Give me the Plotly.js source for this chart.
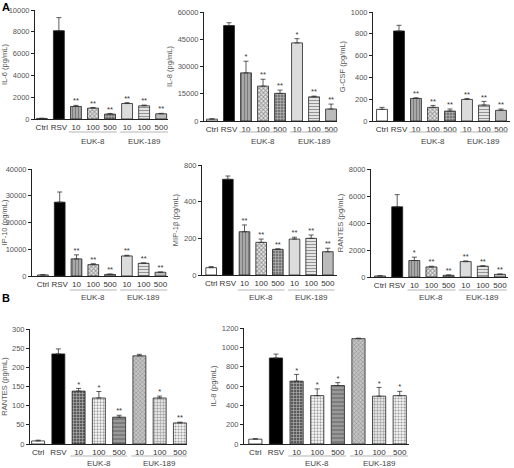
<!DOCTYPE html>
<html>
<head>
<meta charset="utf-8">
<script src="https://cdn.plot.ly/plotly-3.0.1.min.js"></script>
<style>html,body{margin:0;padding:0;background:#fff;}#chart{width:514px;height:468px;}</style>
</head>
<body>
<div id="chart"></div>
<script>
// ---------- DATA ----------
const categories = ['Ctrl', 'RSV', '10', '100', '500', '10', '100', '500'];
const groupLabels = ['EUK-8', 'EUK-189'];

const il6Values = [50, 8100, 1150, 1000, 450, 1420, 1210, 480];
const il6Err    = [20, 1200, 100, 60, 60, 80, 70, 40];
const il6Sig    = ['', '', '**', '**', '**', '**', '**', '**'];

const il8Values = [1000, 52500, 26500, 19200, 15200, 43000, 13300, 6600];
const il8Err    = [200, 1600, 6400, 3800, 1800, 2300, 400, 2700];
const il8Sig    = ['', '', '*', '**', '**', '*', '**', '**'];

const gcsfValues = [107, 826, 207, 125, 91, 198, 146, 98];
const gcsfErr    = [18, 52, 6, 18, 19, 9, 34, 12];
const gcsfSig    = ['', '', '**', '**', '**', '**', '**', '**'];

const ip10Values = [400, 27600, 6400, 4250, 600, 7500, 4750, 1400];
const ip10Err    = [100, 3800, 1500, 350, 150, 250, 150, 100];
const ip10Sig    = ['', '', '**', '**', '**', '**', '**', '**'];

const mipValues = [40, 522, 236, 178, 140, 196, 200, 127];
const mipErr    = [6, 18, 37, 18, 3, 10, 18, 19];
const mipSig    = ['', '', '**', '**', '**', '**', '**', '**'];
const mipTickVals = [0, 200, 400, 600];
const mipTickText = ['0', '200', '400', '800'];

const rantesAValues = [75, 5200, 1220, 745, 125, 1140, 800, 200];
const rantesAErr    = [20, 900, 250, 50, 30, 50, 30, 20];
const rantesASig    = ['', '', '*', '**', '**', '**', '**', '**'];

const rantesBValues = [8, 235, 138, 120, 70, 230, 120, 55];
const rantesBErr    = [2, 13, 7, 17, 5, 4, 5, 2];
const rantesBSig    = ['', '', '*', '*', '**', '', '*', '**'];

const il8BValues = [50, 890, 650, 500, 605, 1090, 495, 500];
const il8BErr    = [5, 40, 70, 70, 30, 5, 90, 45];
const il8BSig    = ['', '', '*', '*', '*', '', '*', '*'];

// ---------- STYLE ----------
const W = 514, H = 468;
const FONT = 'Liberation Sans, Arial, sans-serif';
const idx = categories.map((c, i) => i);

const styleA = {
  color:   ['#ffffff', '#000000', '#a8a8a8', '#e8e8e8', '#777777', '#dcdcdc', '#e4e4e4', '#cfcfcf'],
  shape:   ['', '', '|', 'x', '+', '', '-', '-'],
  fg:      ['#000', '#000', '#8a8a8a', '#111111', '#222222', '#000', '#a0a0a0', '#a8a8a8'],
  size:    [4, 4, 3, 3, 3, 4, 3, 2],
  solidity:[0.3, 0.3, 0.3, 0.55, 0.35, 0.3, 0.35, 0.3]
};
const styleB = {
  color:   ['#ffffff', '#000000', '#5a5a5a', '#ffffff', '#999999', '#c4c4c4', '#e2e2e2', '#f4f4f4'],
  shape:   ['', '', '+', '.', '-', 'x', '+', '.'],
  fg:      ['#000', '#000', '#1a1a1a', '#333333', '#111111', '#8a8a8a', '#555555', '#777777'],
  size:    [4, 4, 3, 3, 4, 3, 3, 3],
  solidity:[0.3, 0.3, 0.4, 0.45, 0.35, 0.3, 0.3, 0.4]
};

// panel layout: pixel boxes [left, right], [top, bottom]
const panels = [
  {vals: il6Values,  err: il6Err,  sig: il6Sig,  title: 'IL-6 (pg/mL)',   px: [35, 168],  py: [10, 119],  xr: [-0.4, 7.4],   yr: [0, 10000], dt: 2000,  st: styleA, row: 0},
  {vals: il8Values,  err: il8Err,  sig: il8Sig,  title: 'IL-8 (pg/mL)',   px: [204, 337], py: [12, 121],  xr: [-0.47, 7.35], yr: [0, 60000], dt: 15000, st: styleA, row: 0},
  {vals: gcsfValues, err: gcsfErr, sig: gcsfSig, title: 'G-CSF (pg/mL)',  px: [373, 510], py: [12, 121],  xr: [-0.53, 7.53], yr: [0, 1000],  dt: 200,   st: styleA, row: 0},
  {vals: ip10Values, err: ip10Err, sig: ip10Sig, title: 'IP-10 (pg/mL)',  px: [32, 168],  py: [169, 276], xr: [-0.65, 7.45], yr: [0, 40000], dt: 10000, st: styleA, row: 1},
  {vals: mipValues,  err: mipErr,  sig: mipSig,  title: 'MIP-1β (pg/mL)', px: [202, 337], py: [165, 275], xr: [-0.55, 7.55], yr: [0, 600],   tv: mipTickVals, tt: mipTickText, st: styleA, row: 1},
  {vals: rantesAValues, err: rantesAErr, sig: rantesASig, title: 'RANTES (pg/mL)', px: [371, 508], py: [169, 277], xr: [-0.53, 7.47], yr: [0, 8000], dt: 2000, st: styleA, row: 1},
  {vals: rantesBValues, err: rantesBErr, sig: rantesBSig, title: 'RANTES (pg/mL)', px: [30, 187],  py: [329, 444], xr: [-0.4, 7.35], yr: [0, 300],  dt: 50,  st: styleB, row: 2},
  {vals: il8BValues,    err: il8BErr,    sig: il8BSig,    title: 'IL-8 (pg/mL)',   px: [244, 409], py: [328, 444], xr: [-0.55, 7.45], yr: [0, 1200], dt: 200, st: styleB, row: 2}
];
const rowLineY = [132, 290, 456];
const rowTextY = [141, 297, 463];

const traces = [];
const layout = {
  width: W, height: H,
  margin: {l: 0, r: 0, t: 0, b: 0},
  paper_bgcolor: '#fff', plot_bgcolor: '#fff',
  showlegend: false,
  font: {family: FONT, size: 8, color: '#444'},
  shapes: [], annotations: []
};

panels.forEach((p, k) => {
  const n = k + 1;
  const xa = n === 1 ? 'x' : 'x' + n;
  const ya = n === 1 ? 'y' : 'y' + n;
  traces.push({
    type: 'bar', x: idx, y: p.vals, xaxis: xa, yaxis: ya, width: 0.64,
    marker: {
      color: p.st.color,
      line: {color: '#222', width: 0.8},
      pattern: {fillmode: 'overlay', shape: p.st.shape, fgcolor: p.st.fg, size: p.st.size, solidity: p.st.solidity}
    },
    error_y: {type: 'data', symmetric: false, array: p.err, arrayminus: p.err.map(() => 0), color: '#333', thickness: 0.8, width: 2.5},
    hoverinfo: 'skip'
  });
  traces.push({
    type: 'scatter', mode: 'text', x: idx, y: p.vals.map((v, i) => v + p.err[i]), text: p.sig,
    textposition: 'top center', textfont: {family: FONT, size: 7.5, color: '#333'},
    xaxis: xa, yaxis: ya, hoverinfo: 'skip', cliponaxis: false
  });
  const xk = n === 1 ? 'xaxis' : 'xaxis' + n;
  const yk = n === 1 ? 'yaxis' : 'yaxis' + n;
  layout[xk] = {
    domain: [p.px[0] / W, p.px[1] / W], anchor: ya, range: p.xr,
    tickmode: 'array', tickvals: idx, ticktext: categories, tickangle: 0,
    showline: true, linecolor: '#222', linewidth: 1, ticks: '', showgrid: false, zeroline: false,
    tickfont: {family: FONT, size: 8, color: '#333'}, fixedrange: true
  };
  const yax = {
    domain: [1 - p.py[1] / H, 1 - p.py[0] / H], anchor: xa, range: p.yr,
    showline: true, linecolor: '#222', linewidth: 1, ticks: 'outside', ticklen: 3, tickwidth: 1, tickcolor: '#222',
    showgrid: false, zeroline: false, tickformat: 'd',
    tickfont: {family: FONT, size: 7.5, color: '#555'},
    title: {text: p.title, font: {family: FONT, size: 7.5, color: '#555'}, standoff: 4}, fixedrange: true
  };
  if (p.tv) { yax.tickmode = 'array'; yax.tickvals = p.tv; yax.ticktext = p.tt; }
  else { yax.tickmode = 'linear'; yax.tick0 = 0; yax.dtick = p.dt; }
  layout[yk] = yax;

  // group underlines and labels
  const ly = 1 - rowLineY[p.row] / H;
  const ty = 1 - rowTextY[p.row] / H;
  [[1.6, 4.4, 3], [4.6, 7.4, 6]].forEach((g, gi) => {
    layout.shapes.push({type: 'line', xref: xa, yref: 'paper', x0: g[0], x1: g[1], y0: ly, y1: ly,
      line: {color: '#b5b5b5', width: 1.2}});
    layout.annotations.push({xref: xa, yref: 'paper', x: g[2], y: ty, text: groupLabels[gi], showarrow: false,
      font: {family: FONT, size: 8, color: '#444'}, xanchor: 'center', yanchor: 'middle'});
  });
});

layout.annotations.push({xref: 'paper', yref: 'paper', x: 0, y: 1 - 7 / H, text: '<b>A</b>', showarrow: false,
  font: {family: FONT, size: 11, color: '#000'}, xanchor: 'left', yanchor: 'middle'});
layout.annotations.push({xref: 'paper', yref: 'paper', x: 0, y: 1 - 298 / H, text: '<b>B</b>', showarrow: false,
  font: {family: FONT, size: 11, color: '#000'}, xanchor: 'left', yanchor: 'middle'});

Plotly.newPlot('chart', traces, layout, {staticPlot: true, displayModeBar: false});
</script>
</body>
</html>
